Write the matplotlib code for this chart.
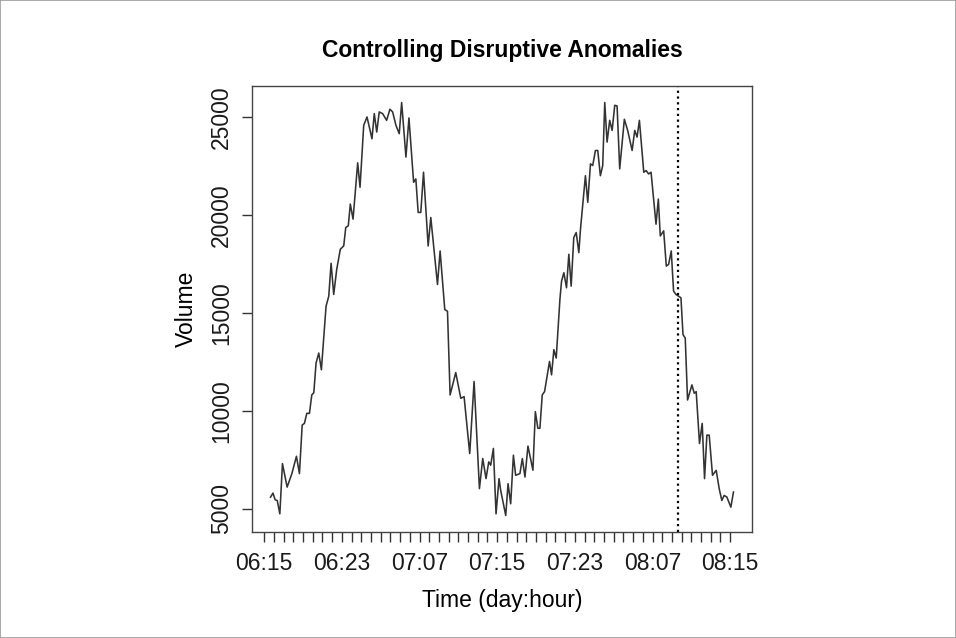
import numpy as np
import matplotlib.pyplot as plt
from matplotlib.patches import Rectangle

plt.rcParams['font.family'] = ['Liberation Sans', 'DejaVu Sans']

# hours since 06:15 (day 6, hour 15)
hours = [0.65, 0.90, 1.13, 1.34, 1.61, 1.88, 2.36, 2.85, 3.32, 3.63,
         3.91, 4.14, 4.39, 4.66, 4.90, 5.11, 5.34, 5.62, 5.89, 6.37,
         6.65, 6.89, 7.16, 7.47, 7.84, 8.19, 8.40, 8.66, 8.87, 9.15,
         9.63, 9.87, 10.25, 10.59, 11.10, 11.34, 11.59, 11.85, 12.20, 12.61,
         12.95, 13.23, 13.57, 13.91, 14.16, 14.60, 14.91, 15.39, 15.62, 15.86,
         16.13, 16.41, 16.89, 17.16, 17.85, 18.12, 18.60, 18.88, 19.15, 19.73,
         20.25, 20.59, 21.17, 21.62, 22.17, 22.51, 22.85, 23.13, 23.33, 23.61,
         23.88, 24.19, 24.36, 24.88, 25.12, 25.39, 25.67, 25.90, 26.34, 26.59,
         26.86, 27.17, 27.68, 27.93, 28.19, 28.40, 28.64, 28.88, 29.39, 29.60,
         29.84, 30.08, 30.46, 30.63, 30.87, 31.14, 31.38, 31.62, 31.89, 32.14,
         32.41, 32.58, 33.09, 33.33, 33.61, 33.84, 34.12, 34.36, 34.63, 34.87,
         35.08, 35.32, 35.59, 35.84, 36.11, 36.35, 36.62, 37.10, 37.44, 37.90,
         38.17, 38.41, 38.65, 39.10, 39.34, 39.60, 39.85, 40.36, 40.60, 40.80,
         41.15, 41.42, 41.66, 41.93, 42.17, 42.42, 42.68, 42.93, 43.14, 43.37,
         43.61, 44.06, 44.30, 44.50, 44.84, 45.12, 45.36, 45.60, 45.84, 46.18,
         46.56, 46.87, 47.14, 47.38, 47.66, 48.07, 48.34]

volume = [5595, 5800, 5460, 5425, 4745, 7308, 6108, 6795, 7682, 6795,
          9272, 9359, 9872, 9872, 10810, 10929, 12436, 12949, 12093, 15339,
          15852, 17529, 15939, 17221, 18247, 18416, 19358, 19441, 20553, 19784,
          22655, 21409, 24570, 24998, 23885, 25168, 24229, 25254, 25168, 24825,
          25393, 25254, 24570, 24145, 25735, 22950, 24948, 21666, 21836, 20126,
          20126, 22178, 18416, 19869, 16450, 18159, 15170, 15083, 10810, 11954,
          10640, 10725, 7820, 11497, 6030, 7568, 6543, 7394, 7226, 8082,
          4744, 6539, 5940, 4658, 6283, 5257, 7734, 6710, 6795, 7564,
          6621, 8201, 6970, 9960, 9109, 9109, 10810, 10980, 12519, 11837,
          13120, 12693, 15680, 16620, 17049, 16280, 17990, 16364, 18843, 19100,
          18075, 19270, 22000, 20640, 22604, 22520, 23287, 23287, 22000, 22520,
          25735, 23715, 24825, 24313, 25594, 25560, 22350, 24880, 24313, 23287,
          24313, 23970, 24825, 22178, 22263, 22090, 22178, 19526, 20808, 18926,
          19185, 17389, 17476, 18160, 16108, 15939, 15852, 15770, 13890, 13718,
          10554, 11323, 10896, 10980, 8330, 9360, 6540, 8760, 8760, 6710,
          6966, 6026, 5426, 5682, 5600, 5085, 5855]

tick_hours = [0, 8, 16, 24, 32, 40, 48]
tick_labels = ['06:15', '06:23', '07:07', '07:15', '07:23', '08:07', '08:15']
y_ticks = [5000, 10000, 15000, 20000, 25000]
anomaly_hour = 42.62

fig = plt.figure(figsize=(9.56, 6.38), dpi=100)
ax = fig.add_axes([0.2636, 0.1661, 0.5230, 0.6991])

ax.plot(hours, volume, color='#333333', linewidth=1.15)
ax.axvline(anomaly_hour, color='black', linestyle=(0, (1, 1.6)), linewidth=1.6)

# R style 4% padding
x = np.array(hours)
y = np.array(volume)
dx = (x.max() - x.min()) * 0.04
dy = (y.max() - y.min()) * 0.04
ax.set_xlim(x.min() - dx, x.max() + dx)
ax.set_ylim(y.min() - dy, y.max() + dy)

ax.set_xticks(tick_hours)
ax.set_xticklabels(tick_labels)
ax.set_xticks(np.arange(0, 49, 1), minor=True)
ax.set_yticks(y_ticks)
ax.set_yticklabels([str(v) for v in y_ticks], rotation=90, va='center')

ax.tick_params(axis='both', which='both', length=7.5, width=1.0, color='#333333',
               labelsize=16.5, labelcolor='#1a1a1a')
ax.tick_params(axis='x', pad=7)
ax.tick_params(axis='y', pad=6)

for s in ax.spines.values():
    s.set_color('#444444')
    s.set_linewidth(1.0)

ax.set_title('Controlling Disruptive Anomalies', fontsize=16.5, fontweight='bold', pad=21)
ax.set_xlabel('Time (day:hour)', fontsize=16.5, labelpad=10)
ax.set_ylabel('Volume', fontsize=16.5, labelpad=9)

fig.patches.append(Rectangle((0, 0), 1, 1, transform=fig.transFigure, fill=False,
                             edgecolor='#999999', linewidth=1.2))

plt.savefig('out.png', dpi=100)
